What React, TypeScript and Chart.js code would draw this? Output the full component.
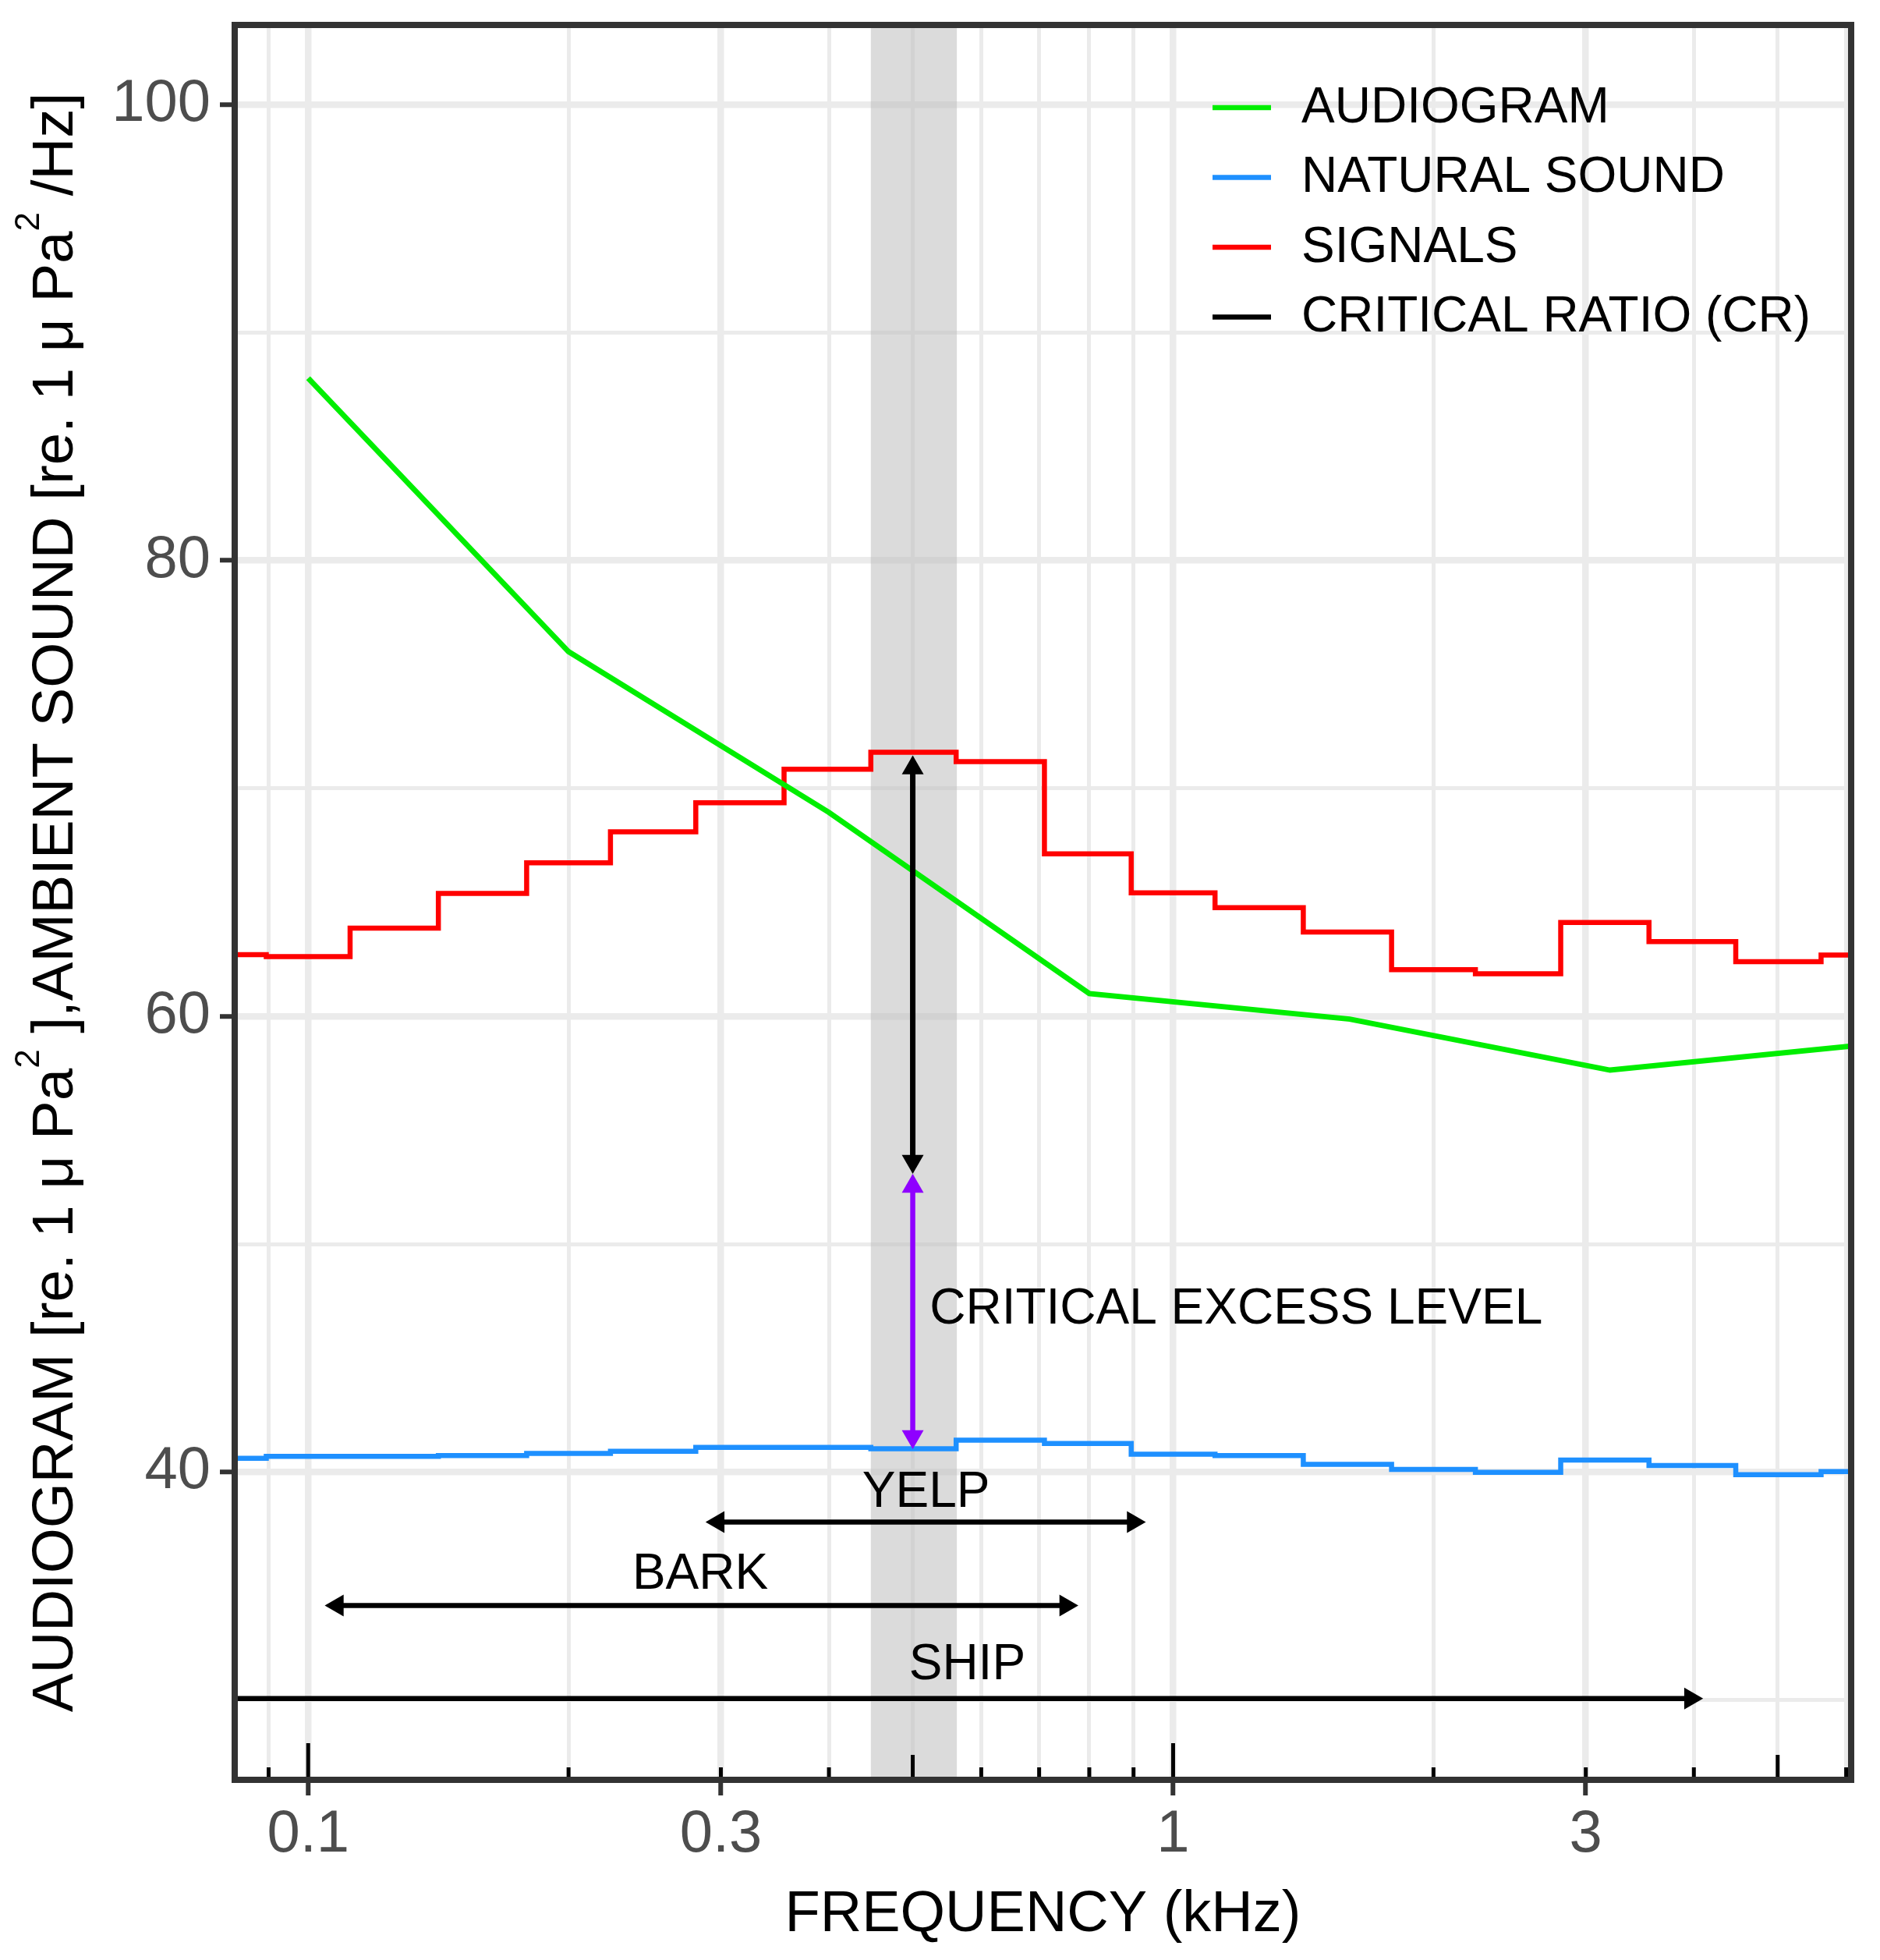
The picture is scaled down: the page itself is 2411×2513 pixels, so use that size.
import React, { useEffect, useRef } from "react";
import { Chart, registerables } from "chart.js";

Chart.register(...registerables);

const FONT = "'Liberation Sans', Arial, Helvetica, sans-serif";

// ---- data (kHz / dB) ----
const BAND_CENTERS_KHZ = [0.08, 0.1, 0.125, 0.16, 0.2, 0.25, 0.315, 0.4, 0.5, 0.63, 0.8, 1, 1.25, 1.6, 2, 2.5, 3.15, 4, 5, 6.3];
const SIGNALS_DB = [62.71, 62.62, 63.87, 65.39, 66.74, 68.1, 69.37, 70.84, 71.59, 71.18, 67.13, 65.42, 64.77, 63.7, 62.05, 61.87, 64.12, 63.28, 62.4, 62.69];
const NATURAL_SOUND_DB = [40.61, 40.69, 40.69, 40.73, 40.82, 40.92, 41.09, 41.09, 41.03, 41.4, 41.26, 40.79, 40.73, 40.34, 40.12, 39.99, 40.53, 40.29, 39.89, 40.03];
const AUDIOGRAM_KHZ = [0.1, 0.2, 0.4, 0.8, 1.6, 3.2, 6.3];
const AUDIOGRAM_DB = [88.0, 76.0, 68.95, 61.0, 59.88, 57.64, 58.75];

const X_LIMITS_KHZ = [0.1, 5];
const Y_LIMITS_DB = [30, 100];
const EXPAND = 0.05;

const X_GRID_KHZ = [0.09, 0.1, 0.2, 0.3, 0.4, 0.5, 0.6, 0.7, 0.8, 0.9, 1, 2, 3, 4, 5, 6];
const X_MAJOR_KHZ = [0.1, 0.3, 1, 3];
const X_TICK_LABELS = ["0.1", "0.3", "1", "3"];
const Y_GRID_DB = [30, 40, 50, 60, 70, 80, 90, 100];
const Y_MAJOR_DB = [40, 60, 80, 100];
const Y_TICK_LABELS = ["40", "60", "80", "100"];
const LOGTICKS_KHZ = [0.09, 0.1, 0.2, 0.3, 0.4, 0.5, 0.6, 0.7, 0.8, 0.9, 1, 2, 3, 4, 5, 6];

const YELP_BAND_KHZ = [0.4472, 0.5623];

const RANGE_NAMES = ["YELP", "BARK", "SHIP"];
const RANGE_FROM_KHZ = [0.288, 0.1045, 0.07];
const RANGE_TO_KHZ = [0.93, 0.777, 4.1];
const RANGE_Y_DB = [37.81, 34.15, 30.07];
const RANGE_BOTH_HEADS = [true, true, false];
const RANGE_LABEL_X_KHZ = [0.518, 0.284, 0.578];
const RANGE_LABEL_Y_DB = [39.09, 35.49, 31.51];

const CR_X_KHZ = 0.5;
const CR_FROM_DB = 71.45;
const CR_TO_DB = 53.09;
const EXCESS_FROM_DB = 53.09;
const EXCESS_TO_DB = 41.01;
const EXCESS_LABEL = "CRITICAL EXCESS LEVEL";
const EXCESS_LABEL_X_KHZ = 0.523;
const EXCESS_LABEL_Y_DB = 47.12;

const LEGEND_LABELS = ["AUDIOGRAM", "NATURAL SOUND", "SIGNALS", "CRITICAL RATIO (CR)"];

const Y_TITLE_PARTS: [string, boolean][] = [
  ["AUDIOGRAM [re. 1 \u03bc Pa", false],
  ["2", true],
  [" ],AMBIENT SOUND [re. 1 \u03bc Pa", false],
  ["2", true],
  [" /Hz]", false],
];
const X_TITLE = "FREQUENCY (kHz)";

// ---- colours ----
const GREEN = "#00EE00";
const BLUE = "#1E90FF";
const RED = "#FF0000";
const PURPLE = "#8F00FF";
const GRID = "#EBEBEB";
const FRAME = "#333333";

const logExpand = (lim: number[]) => {
  const a = Math.log10(lim[0]);
  const b = Math.log10(lim[1]);
  const d = (b - a) * EXPAND;
  return [Math.pow(10, a - d), Math.pow(10, b + d)];
};
const linExpand = (lim: number[]) => {
  const d = (lim[1] - lim[0]) * EXPAND;
  return [lim[0] - d, lim[1] + d];
};

function drawArrow(ctx: CanvasRenderingContext2D, x1: number, y1: number, x2: number, y2: number, color: string, width: number, headStart: boolean, headEnd: boolean) {
  const ang = Math.atan2(y2 - y1, x2 - x1);
  const headLen = 28;
  const headAng = Math.PI / 6;
  const back = headLen * Math.cos(headAng);
  const half = headLen * Math.sin(headAng);
  const c = Math.cos(ang), s = Math.sin(ang);
  let sx = x1, sy = y1, ex = x2, ey = y2;
  if (headStart) { sx += c * back * 0.8; sy += s * back * 0.8; }
  if (headEnd) { ex -= c * back * 0.8; ey -= s * back * 0.8; }
  ctx.save();
  ctx.strokeStyle = color;
  ctx.fillStyle = color;
  ctx.lineWidth = width;
  ctx.lineCap = "butt";
  ctx.beginPath();
  ctx.moveTo(sx, sy);
  ctx.lineTo(ex, ey);
  ctx.stroke();
  const head = (tx: number, ty: number, dc: number, ds: number) => {
    ctx.beginPath();
    ctx.moveTo(tx, ty);
    ctx.lineTo(tx - dc * back + ds * half, ty - ds * back - dc * half);
    ctx.lineTo(tx - dc * back - ds * half, ty - ds * back + dc * half);
    ctx.closePath();
    ctx.fill();
  };
  if (headEnd) head(x2, y2, c, s);
  if (headStart) head(x1, y1, -c, -s);
  ctx.restore();
}

const bandPlugin = {
  id: "yelpBand",
  beforeDatasetsDraw(chart: any) {
    const { ctx, chartArea: a, scales } = chart;
    const x1 = scales.x.getPixelForValue(YELP_BAND_KHZ[0]);
    const x2 = scales.x.getPixelForValue(YELP_BAND_KHZ[1]);
    ctx.save();
    ctx.fillStyle = "rgba(190,190,190,0.55)";
    ctx.fillRect(x1, a.top, x2 - x1, a.bottom - a.top);
    ctx.restore();
  },
};

const annotationPlugin = {
  id: "annotations",
  afterDatasetsDraw(chart: any) {
    const { ctx, chartArea: a, scales } = chart;
    const xs = scales.x, ys = scales.y;
    ctx.save();
    ctx.beginPath();
    ctx.rect(a.left, a.top, a.right - a.left, a.bottom - a.top);
    ctx.clip();

    // critical ratio and critical excess level arrows
    const cx = xs.getPixelForValue(CR_X_KHZ);
    drawArrow(ctx, cx, ys.getPixelForValue(CR_FROM_DB), cx, ys.getPixelForValue(CR_TO_DB), "#000000", 7, true, true);
    drawArrow(ctx, cx, ys.getPixelForValue(EXCESS_FROM_DB), cx, ys.getPixelForValue(EXCESS_TO_DB), PURPLE, 6.5, true, true);

    // range arrows
    RANGE_NAMES.forEach((_, i) => {
      const y = ys.getPixelForValue(RANGE_Y_DB[i]);
      drawArrow(ctx, xs.getPixelForValue(RANGE_FROM_KHZ[i]), y, xs.getPixelForValue(RANGE_TO_KHZ[i]), y, "#000000", 6.5, RANGE_BOTH_HEADS[i], true);
    });

    ctx.fillStyle = "#000000";
    ctx.font = `64px ${FONT}`;
    ctx.textBaseline = "middle";
    ctx.textAlign = "center";
    RANGE_NAMES.forEach((name, i) => {
      ctx.fillText(name, xs.getPixelForValue(RANGE_LABEL_X_KHZ[i]), ys.getPixelForValue(RANGE_LABEL_Y_DB[i]));
    });
    ctx.textAlign = "left";
    ctx.fillText(EXCESS_LABEL, xs.getPixelForValue(EXCESS_LABEL_X_KHZ), ys.getPixelForValue(EXCESS_LABEL_Y_DB));

    // log ticks along the bottom
    ctx.strokeStyle = "#000000";
    ctx.lineWidth = 5;
    LOGTICKS_KHZ.forEach((v) => {
      const m = Math.round(v / Math.pow(10, Math.floor(Math.log10(v) + 1e-9)));
      const len = m === 1 ? 47 : m === 5 ? 32 : 16;
      const px = xs.getPixelForValue(v);
      ctx.beginPath();
      ctx.moveTo(px, a.bottom);
      ctx.lineTo(px, a.bottom - len);
      ctx.stroke();
    });
    ctx.restore();
  },
  afterDraw(chart: any) {
    const { ctx, chartArea: a } = chart;
    ctx.save();
    // legend
    const colors = [...chart.data.datasets.map((d: any) => d.borderColor), "#000000"];
    ctx.font = `64px ${FONT}`;
    ctx.textBaseline = "middle";
    ctx.textAlign = "left";
    LEGEND_LABELS.forEach((label, i) => {
      const y = 138 + i * 89.5;
      ctx.strokeStyle = colors[i];
      ctx.lineWidth = 6.5;
      ctx.beginPath();
      ctx.moveTo(1555, y);
      ctx.lineTo(1630, y);
      ctx.stroke();
      ctx.fillStyle = "#000000";
      ctx.fillText(label, 1669, y + 1);
    });

    // panel border
    ctx.strokeStyle = FRAME;
    ctx.lineWidth = 8;
    ctx.strokeRect(a.left, a.top, a.right - a.left, a.bottom - a.top);

    // y title with superscripts
    const mainSize = 74.5;
    const supSize = 44;
    let total = 0;
    Y_TITLE_PARTS.forEach(([t, sup]) => {
      ctx.font = `${sup ? supSize : mainSize}px ${FONT}`;
      total += ctx.measureText(t).width;
    });
    ctx.translate(93, (a.top + a.bottom) / 2);
    ctx.rotate(-Math.PI / 2);
    ctx.fillStyle = "#000000";
    ctx.textBaseline = "alphabetic";
    ctx.textAlign = "left";
    let x = -total / 2;
    Y_TITLE_PARTS.forEach(([t, sup]) => {
      ctx.font = `${sup ? supSize : mainSize}px ${FONT}`;
      ctx.fillText(t, x, sup ? -43 : 0);
      x += ctx.measureText(t).width;
    });
    ctx.restore();
  },
};

export default function App() {
  const ref = useRef<HTMLCanvasElement | null>(null);
  useEffect(() => {
    if (!ref.current) return;
    const [xMin, xMax] = logExpand(X_LIMITS_KHZ);
    const [yMin, yMax] = linExpand(Y_LIMITS_DB);
    const chart = new Chart(ref.current, {
      type: "line",
      data: {
        datasets: [
          {
            label: "AUDIOGRAM",
            data: AUDIOGRAM_KHZ.map((x, i) => ({ x, y: AUDIOGRAM_DB[i] })),
            borderColor: GREEN,
            borderWidth: 7,
            pointRadius: 0,
            tension: 0,
            fill: false,
            clip: 0,
          },
          {
            label: "NATURAL SOUND",
            data: BAND_CENTERS_KHZ.map((x, i) => ({ x, y: NATURAL_SOUND_DB[i] })),
            borderColor: BLUE,
            borderWidth: 6.5,
            pointRadius: 0,
            stepped: "middle",
            fill: false,
            clip: 0,
          },
          {
            label: "SIGNALS",
            data: BAND_CENTERS_KHZ.map((x, i) => ({ x, y: SIGNALS_DB[i] })),
            borderColor: RED,
            borderWidth: 6.5,
            pointRadius: 0,
            stepped: "middle",
            fill: false,
            clip: 0,
          },
        ],
      } as any,
      options: {
        responsive: false,
        animation: false,
        devicePixelRatio: 1,
        events: [],
        layout: { padding: { top: 32, right: 37, left: 0, bottom: 0 } },
        plugins: { legend: { display: false }, tooltip: { enabled: false } },
        scales: {
          x: {
            type: "logarithmic",
            min: xMin,
            max: xMax,
            bounds: "data",
            afterBuildTicks: (s: any) => {
              s.ticks = X_GRID_KHZ.map((v) => ({ value: v }));
            },
            afterFit: (s: any) => {
              s.height = 231;
              s.paddingLeft = 0;
              s.paddingRight = 0;
              s.paddingTop = 0;
              s.paddingBottom = 0;
            },
            ticks: {
              autoSkip: false,
              maxRotation: 0,
              minRotation: 0,
              padding: 13,
              color: "#4D4D4D",
              font: { family: FONT, size: 76, lineHeight: 1 },
              callback: (v: any) => {
                const i = X_MAJOR_KHZ.indexOf(Number(v));
                return i >= 0 ? X_TICK_LABELS[i] : "";
              },
            },
            grid: {
              color: GRID,
              lineWidth: (c: any) => (c.tick && X_MAJOR_KHZ.includes(c.tick.value) ? 8.5 : 5),
              drawTicks: true,
              tickLength: 20,
              tickWidth: 6,
              tickColor: (c: any) => (c.tick && X_MAJOR_KHZ.includes(c.tick.value) ? FRAME : "rgba(0,0,0,0)"),
            },
            border: { display: false },
            title: {
              display: true,
              text: X_TITLE,
              color: "#000000",
              font: { family: FONT, size: 74, lineHeight: 1 },
              padding: { top: 0, bottom: 20 },
            },
          },
          y: {
            type: "linear",
            min: yMin,
            max: yMax,
            bounds: "data",
            afterBuildTicks: (s: any) => {
              s.ticks = Y_GRID_DB.map((v) => ({ value: v }));
            },
            afterFit: (s: any) => {
              s.width = 301;
              s.paddingLeft = 0;
              s.paddingRight = 0;
              s.paddingTop = 0;
              s.paddingBottom = 0;
            },
            ticks: {
              autoSkip: false,
              padding: 12,
              color: "#4D4D4D",
              font: { family: FONT, size: 76, lineHeight: 1 },
              callback: (v: any) => {
                const i = Y_MAJOR_DB.indexOf(Number(v));
                return i >= 0 ? Y_TICK_LABELS[i] : "";
              },
            },
            grid: {
              color: GRID,
              lineWidth: (c: any) => (c.tick && Y_MAJOR_DB.includes(c.tick.value) ? 8.5 : 5),
              drawTicks: true,
              tickLength: 19,
              tickWidth: 6,
              tickColor: (c: any) => (c.tick && Y_MAJOR_DB.includes(c.tick.value) ? FRAME : "rgba(0,0,0,0)"),
            },
            border: { display: false },
          },
        },
      } as any,
      plugins: [bandPlugin, annotationPlugin],
    });
    return () => chart.destroy();
  }, []);

  return (
    <div style={{ position: "fixed", left: 0, top: 0, width: 2411, height: 2513, background: "#ffffff" }}>
      <canvas ref={ref} width={2411} height={2513} style={{ display: "block", width: 2411, height: 2513 }} />
    </div>
  );
}
